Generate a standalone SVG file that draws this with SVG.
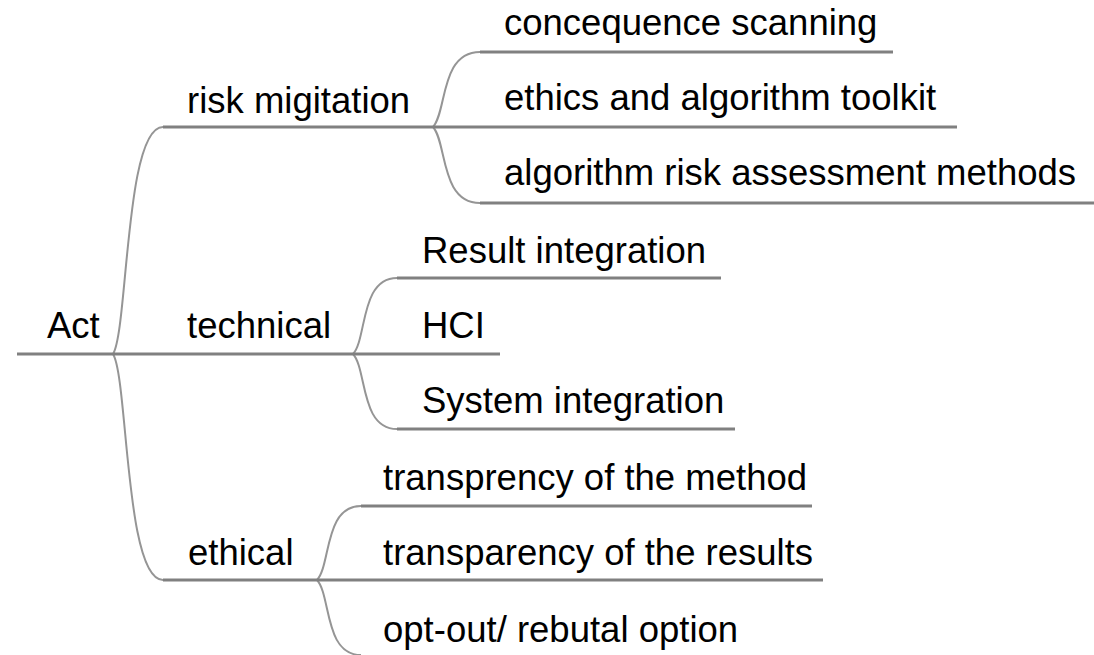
<svg xmlns="http://www.w3.org/2000/svg" width="1094" height="655" viewBox="0 0 1094 655">
<style>
.t{font-family:"Liberation Sans",Arial,sans-serif;font-size:36.5px;fill:#000}
.u{stroke:#808080;stroke-width:3;fill:none}
.c{stroke:#959595;stroke-width:2;fill:none}
</style>
<rect width="1094" height="655" fill="#fff"/>
<g id="connectors">
<path class="c" d="M113,354 C128,330 125,127 163,127"/>
<path class="c" d="M113,354 C128,378 125,580 163,580"/>
<path class="c" d="M433,127 C447,112 440,52 480,52"/>
<path class="c" d="M433,127 C447,142 440,203 480,203"/>
<path class="c" d="M353,354 C367,339 360,278 397,278"/>
<path class="c" d="M353,354 C367,369 360,429 397,429"/>
<path class="c" d="M317,580 C331,565 324,506 361,506"/>
<path class="c" d="M317,580 C331,595 324,655 361,655"/>
</g>
<g id="act"><line class="u" x1="17" y1="354" x2="113" y2="354"/><text class="t" x="47" y="338">Act</text></g>
<g id="risk-migitation"><line class="u" x1="163" y1="127" x2="433" y2="127"/><text class="t" x="187" y="113">risk migitation</text></g>
<g id="technical"><line class="u" x1="113" y1="354" x2="353" y2="354"/><text class="t" x="187" y="338">technical</text></g>
<g id="ethical"><line class="u" x1="163" y1="580" x2="317" y2="580"/><text class="t" x="188" y="565">ethical</text></g>
<g id="concequence-scanning"><line class="u" x1="480" y1="52" x2="893" y2="52"/><text class="t" x="504" y="35">concequence scanning</text></g>
<g id="ethics-toolkit"><line class="u" x1="433" y1="127" x2="957" y2="127"/><text class="t" x="504" y="110">ethics and algorithm toolkit</text></g>
<g id="algorithm-risk"><line class="u" x1="480" y1="203" x2="1094" y2="203"/><text class="t" x="504" y="185">algorithm risk assessment methods</text></g>
<g id="result-integration"><line class="u" x1="397" y1="278" x2="721" y2="278"/><text class="t" x="422" y="263">Result integration</text></g>
<g id="hci"><line class="u" x1="353" y1="354" x2="500" y2="354"/><text class="t" x="422" y="338">HCI</text></g>
<g id="system-integration"><line class="u" x1="397" y1="429" x2="735" y2="429"/><text class="t" x="422" y="413">System integration</text></g>
<g id="transprency-method"><line class="u" x1="361" y1="506" x2="812" y2="506"/><text class="t" x="383" y="490">transprency of the method</text></g>
<g id="transparency-results"><line class="u" x1="317" y1="580" x2="823" y2="580"/><text class="t" x="383" y="565">transparency of the results</text></g>
<g id="opt-out"><text class="t" x="383" y="642">opt-out/ rebutal option</text></g>
</svg>
